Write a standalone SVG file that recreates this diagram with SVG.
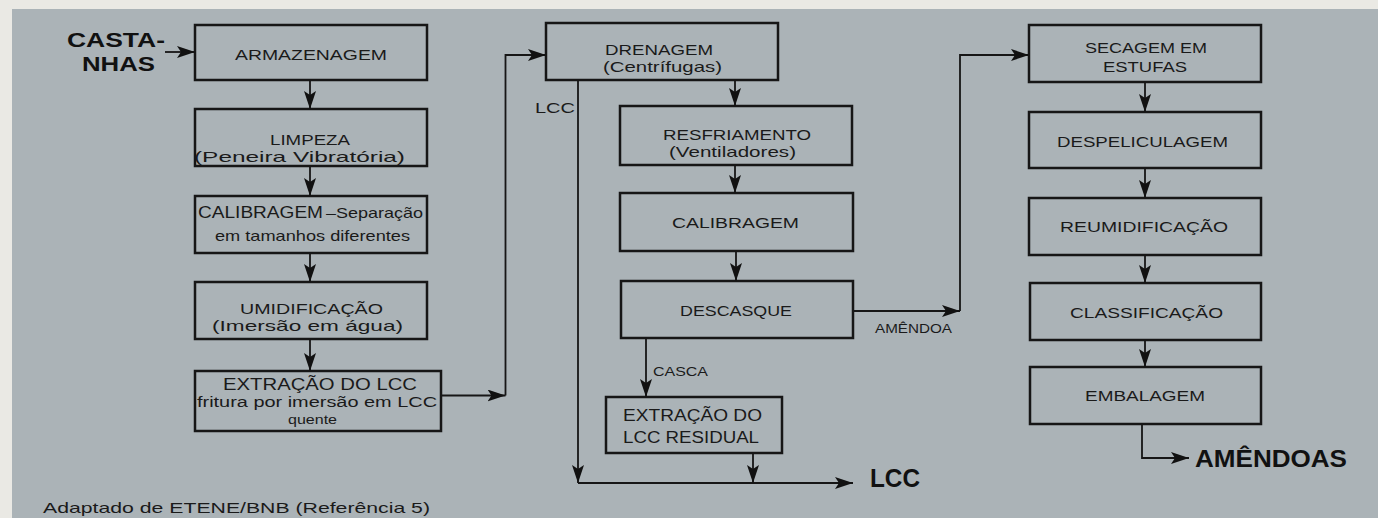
<svg xmlns="http://www.w3.org/2000/svg" width="1378" height="518" viewBox="0 0 1378 518">
<style>
.bg{fill:#abb3b7}
.box{fill:none;stroke:#161616;stroke-width:2.5}
.ln{fill:none;stroke:#161616;stroke-width:1.8}
.t{font-family:"Liberation Sans",Arial,sans-serif;fill:#1a1a1a}
.b{font-family:"Liberation Sans",Arial,sans-serif;font-weight:bold;fill:#111}
</style>
<defs>
<marker id="ah" viewBox="0 0 18 12" refX="18" refY="6" markerWidth="18" markerHeight="12" orient="auto" markerUnits="userSpaceOnUse">
<path d="M0,0 L18,6 L0,12 L4,6 Z" fill="#111"/>
</marker>
</defs>
<rect x="0" y="0" width="1378" height="518" fill="#eae9e4"/>
<rect class="bg" x="12" y="9" width="1366" height="509"/>

<g id="castanhas">
<text class="b" x="67" y="47" font-size="20" textLength="98" lengthAdjust="spacingAndGlyphs">CASTA-</text>
<text class="b" x="82" y="71" font-size="20" textLength="73" lengthAdjust="spacingAndGlyphs">NHAS</text>
</g>
<g id="armazenagem">
<rect class="box" x="195" y="25" width="232" height="55"/>
<text class="t" x="235" y="60" font-size="15" textLength="152" lengthAdjust="spacingAndGlyphs">ARMAZENAGEM</text>
</g>
<g id="limpeza">
<rect class="box" x="195" y="109" width="232" height="57"/>
<text class="t" x="270" y="145" font-size="15" textLength="80" lengthAdjust="spacingAndGlyphs">LIMPEZA</text>
<text class="t" x="194" y="162" font-size="15" textLength="211" lengthAdjust="spacingAndGlyphs">(Peneira Vibratória)</text>
</g>
<g id="calibragem1">
<rect class="box" x="195" y="196" width="232" height="57"/>
<text class="t" x="198" y="218" font-size="16" textLength="125" lengthAdjust="spacingAndGlyphs">CALIBRAGEM</text>
<text class="t" x="326" y="218" font-size="15" textLength="97" lengthAdjust="spacingAndGlyphs">–Separação</text>
<text class="t" x="215" y="240.5" font-size="15" textLength="195" lengthAdjust="spacingAndGlyphs">em tamanhos diferentes</text>
</g>
<g id="umidificacao">
<rect class="box" x="195" y="282" width="232" height="57"/>
<text class="t" x="240" y="314" font-size="15" textLength="143" lengthAdjust="spacingAndGlyphs">UMIDIFICAÇÃO</text>
<text class="t" x="212" y="331" font-size="15" textLength="191" lengthAdjust="spacingAndGlyphs">(Imersão em água)</text>
</g>
<g id="extracao">
<rect class="box" x="195" y="371" width="246" height="60"/>
<text class="t" x="223" y="390" font-size="16" textLength="194" lengthAdjust="spacingAndGlyphs">EXTRAÇÃO DO LCC</text>
<text class="t" x="197" y="407" font-size="14" textLength="240" lengthAdjust="spacingAndGlyphs">fritura por imersão em LCC</text>
<text class="t" x="288" y="423.5" font-size="13" textLength="49" lengthAdjust="spacingAndGlyphs">quente</text>
</g>
<g id="drenagem">
<rect class="box" x="546" y="23" width="232" height="57"/>
<text class="t" x="605" y="55" font-size="15" textLength="108" lengthAdjust="spacingAndGlyphs">DRENAGEM</text>
<text class="t" x="603" y="72" font-size="15" textLength="119" lengthAdjust="spacingAndGlyphs">(Centrífugas)</text>
</g>
<g id="resfriamento">
<rect class="box" x="620" y="106" width="232" height="59"/>
<text class="t" x="663" y="139.5" font-size="15" textLength="148" lengthAdjust="spacingAndGlyphs">RESFRIAMENTO</text>
<text class="t" x="669" y="156.5" font-size="15" textLength="127" lengthAdjust="spacingAndGlyphs">(Ventiladores)</text>
</g>
<g id="calibragem2">
<rect class="box" x="620" y="193" width="233" height="58"/>
<text class="t" x="672" y="228" font-size="15" textLength="127" lengthAdjust="spacingAndGlyphs">CALIBRAGEM</text>
</g>
<g id="descasque">
<rect class="box" x="621" y="281" width="232" height="57"/>
<text class="t" x="680" y="315.5" font-size="15" textLength="112" lengthAdjust="spacingAndGlyphs">DESCASQUE</text>
</g>
<g id="residual">
<rect class="box" x="606" y="397" width="176" height="56"/>
<text class="t" x="623" y="420.5" font-size="16" textLength="139" lengthAdjust="spacingAndGlyphs">EXTRAÇÃO DO</text>
<text class="t" x="623" y="442.5" font-size="16" textLength="136" lengthAdjust="spacingAndGlyphs">LCC RESIDUAL</text>
</g>
<g id="lcc-out">
<text class="b" x="870" y="486.5" font-size="25" textLength="50" lengthAdjust="spacingAndGlyphs">LCC</text>
</g>
<g id="secagem">
<rect class="box" x="1029" y="25" width="232" height="57"/>
<text class="t" x="1085" y="53.3" font-size="14" textLength="122" lengthAdjust="spacingAndGlyphs">SECAGEM EM</text>
<text class="t" x="1103" y="72.3" font-size="14" textLength="84" lengthAdjust="spacingAndGlyphs">ESTUFAS</text>
</g>
<g id="despeliculagem">
<rect class="box" x="1029" y="112" width="232" height="56"/>
<text class="t" x="1057" y="147.3" font-size="15" textLength="171" lengthAdjust="spacingAndGlyphs">DESPELICULAGEM</text>
</g>
<g id="reumidificacao">
<rect class="box" x="1029" y="198" width="232" height="57"/>
<text class="t" x="1060" y="231.7" font-size="15" textLength="168" lengthAdjust="spacingAndGlyphs">REUMIDIFICAÇÃO</text>
</g>
<g id="classificacao">
<rect class="box" x="1030" y="283" width="231" height="57"/>
<text class="t" x="1070" y="317.7" font-size="15" textLength="153" lengthAdjust="spacingAndGlyphs">CLASSIFICAÇÃO</text>
</g>
<g id="embalagem">
<rect class="box" x="1030" y="367" width="231" height="57"/>
<text class="t" x="1085" y="400.7" font-size="15" textLength="120" lengthAdjust="spacingAndGlyphs">EMBALAGEM</text>
</g>
<g id="amendoas-out">
<text class="b" x="1195" y="466.7" font-size="23" textLength="152" lengthAdjust="spacingAndGlyphs">AMÊNDOAS</text>
</g>

<g id="connectors">
<path class="ln" d="M165,52 H195" marker-end="url(#ah)"/>
<path class="ln" d="M310,80 V109" marker-end="url(#ah)"/>
<path class="ln" d="M310,166 V196" marker-end="url(#ah)"/>
<path class="ln" d="M310,253 V282" marker-end="url(#ah)"/>
<path class="ln" d="M310,339 V371" marker-end="url(#ah)"/>
<path class="ln" d="M441,395.5 H505.5" marker-end="url(#ah)"/>
<path class="ln" d="M505.5,395.5 V55 H546" marker-end="url(#ah)"/>
<path class="ln" d="M735,80 V106" marker-end="url(#ah)"/>
<path class="ln" d="M735,165 V193" marker-end="url(#ah)"/>
<path class="ln" d="M736,251 V281" marker-end="url(#ah)"/>
<path class="ln" d="M853,311 H960" marker-end="url(#ah)"/>
<path class="ln" d="M960,311 V55 H1029" marker-end="url(#ah)"/>
<path class="ln" d="M646,338 V397" marker-end="url(#ah)"/>
<path class="ln" d="M578,80 V483" marker-end="url(#ah)"/>
<path class="ln" d="M578,483 H853" marker-end="url(#ah)"/>
<path class="ln" d="M753,453 V483" marker-end="url(#ah)"/>
<path class="ln" d="M1145,82 V112" marker-end="url(#ah)"/>
<path class="ln" d="M1145,168 V198" marker-end="url(#ah)"/>
<path class="ln" d="M1145,255 V283" marker-end="url(#ah)"/>
<path class="ln" d="M1145,340 V367" marker-end="url(#ah)"/>
<path class="ln" d="M1142,424 V458 H1189" marker-end="url(#ah)"/>
<text class="t" x="535" y="113" font-size="15" textLength="40" lengthAdjust="spacingAndGlyphs">LCC</text>
<text class="t" x="653" y="376" font-size="13" textLength="55" lengthAdjust="spacingAndGlyphs">CASCA</text>
<text class="t" x="875" y="332.7" font-size="12" textLength="77" lengthAdjust="spacingAndGlyphs">AMÊNDOA</text>
</g>

<text class="t" x="43" y="513.3" font-size="15" textLength="387" lengthAdjust="spacingAndGlyphs">Adaptado de ETENE/BNB (Referência 5)</text>
</svg>
